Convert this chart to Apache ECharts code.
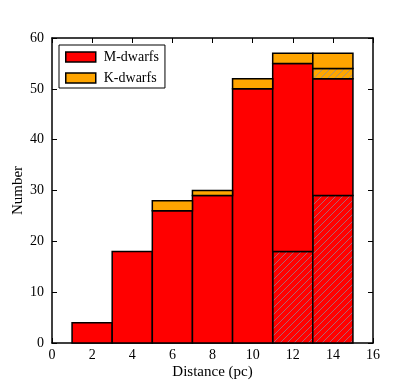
<!DOCTYPE html>
<html>
<head>
<meta charset="utf-8">
<script src="https://cdn.jsdelivr.net/npm/echarts@6/dist/echarts.min.js"></script>
<style>html,body{margin:0;padding:0;background:#fff}#c{width:415px;height:381px}</style>
</head>
<body>
<div id="c"></div>
<script>
// Data
var binEdges = [1, 3, 5, 7, 9, 11, 13, 15];
var mTotal   = [4, 18, 26, 29, 50, 55, 52];
var mHatched = [0, 0, 0, 0, 0, 18, 29];
var kTotal   = [0, 0, 2, 1, 2, 2, 5];
var kHatched = [0, 0, 0, 0, 0, 0, 2];
var xTicks = [0, 2, 4, 6, 8, 10, 12, 14, 16];
var yTicks = [0, 10, 20, 30, 40, 50, 60];

var RED = '#ff0000', ORANGE = '#ffa500';
function hatch(base) {
  var s = 7, c = document.createElement('canvas');
  c.width = s; c.height = s;
  var g = c.getContext('2d');
  g.fillStyle = base; g.fillRect(0, 0, s, s);
  g.strokeStyle = 'rgba(140,140,160,0.7)'; g.lineWidth = 1;
  g.beginPath();
  g.moveTo(-1, s + 1); g.lineTo(s + 1, -1);
  g.moveTo(-1, 1); g.lineTo(1, -1);
  g.moveTo(s - 1, s + 1); g.lineTo(s + 1, s - 1);
  g.stroke();
  return { image: c, repeat: 'repeat' };
}

function segs(lowArr, highArr) {
  var out = [];
  for (var i = 0; i < mTotal.length; i++) {
    var lo = lowArr[i], hi = highArr[i];
    if (hi > lo) out.push([binEdges[i], binEdges[i + 1], lo, hi]);
  }
  return out;
}
var zeros = mTotal.map(function () { return 0; });
var mTop = mTotal.slice();
var kHTop = mTotal.map(function (v, i) { return v + kHatched[i]; });
var kTop = mTotal.map(function (v, i) { return v + kTotal[i]; });

function renderRect(fill) {
  return function (params, api) {
    var p0 = api.coord([api.value(0), api.value(3)]);
    var p1 = api.coord([api.value(1), api.value(2)]);
    return {
      type: 'rect',
      shape: { x: p0[0], y: p0[1], width: p1[0] - p0[0], height: p1[1] - p0[1] },
      style: { fill: fill, stroke: '#000', lineWidth: 1.5 }
    };
  };
}
function series(name, data, fill, legendColor) {
  return {
    type: 'custom', name: name, data: data,
    encode: { x: [0, 1], y: [2, 3] },
    itemStyle: { color: legendColor || fill, borderColor: '#000', borderWidth: 1.5 },
    renderItem: renderRect(fill), silent: true, animation: false
  };
}

var font = 'Liberation Serif';
var axisCommon = {
  axisLine: { show: true, onZero: false, lineStyle: { color: '#000', width: 1.5 } },
  axisTick: { show: true, inside: true, length: 5, lineStyle: { color: '#000', width: 1 } },
  splitLine: { show: false }
};
var chart = echarts.init(document.getElementById('c'), null, { renderer: 'canvas' });
chart.setOption({
  backgroundColor: '#fff',
  animation: false,
  grid: { left: 52, top: 38, right: 42, bottom: 38, containLabel: false, outerBoundsMode: 'none' },
  legend: {
    orient: 'vertical', left: 59, top: 45,
    data: ['M-dwarfs', 'K-dwarfs'],
    icon: 'rect', itemWidth: 30, itemHeight: 10, itemGap: 7,
    padding: [5, 6, 3, 6],
    borderColor: '#000', borderWidth: 1, borderRadius: 0, backgroundColor: '#fff',
    textStyle: { fontFamily: font, fontSize: 14, color: '#000', padding: [0, 0, 0, 3] },
    itemStyle: { borderColor: '#000', borderWidth: 1.5 },
    selectedMode: false
  },
  xAxis: [
    Object.assign({}, axisCommon, {
      type: 'value', min: 0, max: 16, interval: 2, position: 'bottom',
      name: 'Distance (pc)', nameLocation: 'middle', nameGap: 22, nameMoveOverlap: false,
      nameTextStyle: { fontFamily: font, fontSize: 15, color: '#000' },
      axisLabel: { fontFamily: font, fontSize: 14, color: '#000', margin: 5,
        formatter: function (v) { return xTicks.indexOf(v) >= 0 ? String(v) : ''; } }
    }),
    Object.assign({}, axisCommon, {
      type: 'value', min: 0, max: 16, interval: 2, position: 'top',
      axisLabel: { show: false }
    })
  ],
  yAxis: [
    Object.assign({}, axisCommon, {
      type: 'value', min: 0, max: 60, interval: 10, position: 'left',
      name: 'Number', nameLocation: 'middle', nameGap: 26, nameRotate: 90, nameMoveOverlap: false,
      nameTextStyle: { fontFamily: font, fontSize: 15, color: '#000' },
      axisLabel: { fontFamily: font, fontSize: 14, color: '#000', margin: 8,
        formatter: function (v) { return yTicks.indexOf(v) >= 0 ? String(v) : ''; } }
    }),
    Object.assign({}, axisCommon, {
      type: 'value', min: 0, max: 60, interval: 10, position: 'right',
      axisLabel: { show: false }
    })
  ],
  series: [
    series('M-dwarfs (hatched)', segs(zeros, mHatched), hatch(RED), RED),
    series('M-dwarfs', segs(mHatched, mTop), RED),
    series('K-dwarfs (hatched)', segs(mTop, kHTop), hatch(ORANGE), ORANGE),
    series('K-dwarfs', segs(kHTop, kTop), ORANGE)
  ]
});
</script>
</body>
</html>
